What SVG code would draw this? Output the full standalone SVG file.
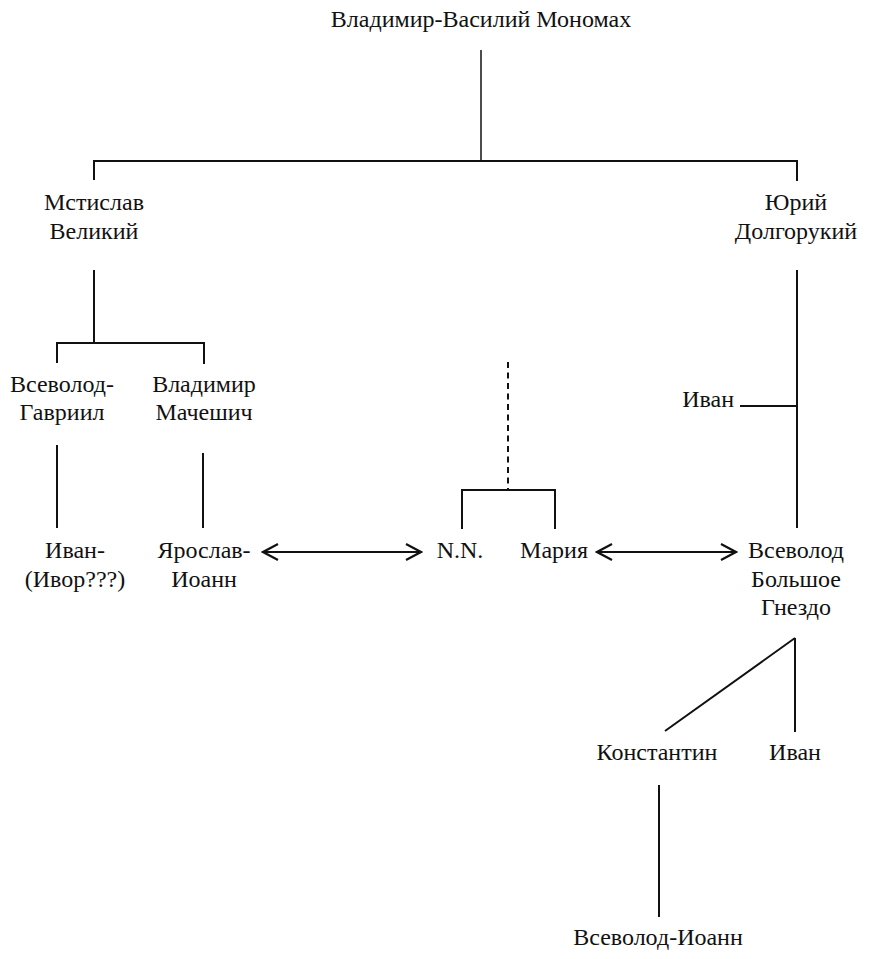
<svg xmlns="http://www.w3.org/2000/svg" width="871" height="959" viewBox="0 0 871 959">
<style>
  .t { font-family: 'Liberation Serif', 'DejaVu Serif', serif; font-size: 24px; fill: #111; text-anchor: middle; }
  .ln { stroke: #111; stroke-width: 2; fill: none; }
  .thin { stroke-width: 1.5; }
  .dash { stroke-dasharray: 6 4.5; }
  .arr { marker-start: url(#chev); marker-end: url(#chev); }
</style>
<defs>
  <marker id="chev" viewBox="-17 -10 19 20" markerWidth="19" markerHeight="20" refX="0" refY="0" markerUnits="userSpaceOnUse" orient="auto-start-reverse">
    <path d="M-15,-8 L0,0 L-15,8" fill="none" stroke="#111" stroke-width="2.2"/>
  </marker>
</defs>
<rect width="871" height="959" fill="#fff"/>
<g id="connectors">
  <line class="ln thin" x1="481" y1="50" x2="481" y2="161"/>
  <polyline class="ln" points="94,180 94,161 797,161 797,181"/>
  <line class="ln" x1="94" y1="270" x2="94" y2="343"/>
  <polyline class="ln" points="57,363 57,343 204,343 204,364"/>
  <line class="ln" x1="57" y1="445" x2="57" y2="528"/>
  <line class="ln" x1="203" y1="453" x2="203" y2="528"/>
  <line class="ln" x1="797" y1="270" x2="797" y2="528"/>
  <line class="ln" x1="740" y1="406" x2="797" y2="406"/>
  <line class="ln dash" x1="508" y1="362" x2="508" y2="490"/>
  <polyline class="ln" points="462,529 462,490 555,490 555,529"/>
  <line class="ln arr" x1="263" y1="552" x2="421" y2="552"/>
  <line class="ln arr" x1="597" y1="552" x2="736" y2="552"/>
  <line class="ln" x1="795" y1="638" x2="665" y2="731"/>
  <line class="ln" x1="795" y1="638" x2="795" y2="732"/>
  <line class="ln" x1="659" y1="785" x2="659" y2="917"/>
</g>
<g id="monomakh"><text class="t" x="481" y="27">Владимир-Василий Мономах</text></g>
<g id="mstislav"><text class="t" x="94" y="210">Мстислав</text><text class="t" x="94" y="239">Великий</text></g>
<g id="yuri"><text class="t" x="796" y="210">Юрий</text><text class="t" x="796" y="239">Долгорукий</text></g>
<g id="vsevolod-gavriil"><text class="t" x="62" y="392">Всеволод-</text><text class="t" x="62" y="420">Гавриил</text></g>
<g id="vladimir-macheshich"><text class="t" x="204" y="392">Владимир</text><text class="t" x="204" y="420">Мачешич</text></g>
<g id="ivan-yuri"><text class="t" x="734" y="407" style="text-anchor:end">Иван</text></g>
<g id="ivan-ivor"><text class="t" x="75" y="558">Иван-</text><text class="t" x="75" y="587">(Ивор???)</text></g>
<g id="yaroslav-ioann"><text class="t" x="204" y="558">Ярослав-</text><text class="t" x="204" y="587">Иоанн</text></g>
<g id="nn"><text class="t" x="460" y="558">N.N.</text></g>
<g id="maria"><text class="t" x="554" y="558">Мария</text></g>
<g id="vsevolod-gnezdo"><text class="t" x="796" y="558">Всеволод</text><text class="t" x="796" y="587">Большое</text><text class="t" x="796" y="615">Гнездо</text></g>
<g id="konstantin"><text class="t" x="657" y="760">Константин</text></g>
<g id="ivan-vsevolod"><text class="t" x="795" y="760">Иван</text></g>
<g id="vsevolod-ioann"><text class="t" x="658" y="945">Всеволод-Иоанн</text></g>
</svg>
